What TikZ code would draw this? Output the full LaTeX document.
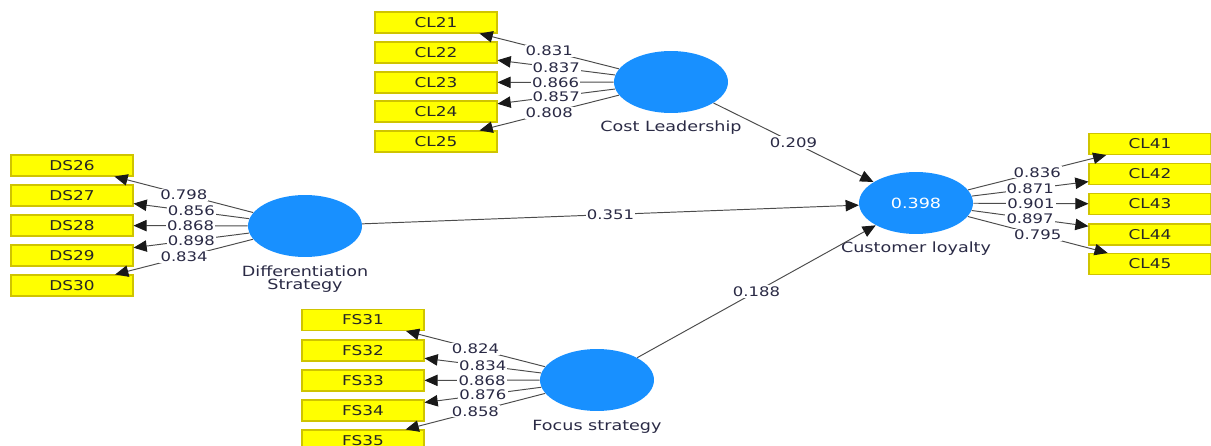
\documentclass[tikz,border=0pt]{standalone}
\usepackage{fontspec}
\setmainfont[FakeStretch=1.25]{DejaVu Sans}
\usetikzlibrary{shapes.geometric,arrows.meta}
\definecolor{lvblue}{HTML}{1890FF}
\definecolor{boxyel}{HTML}{FFFF00}
\definecolor{boxedge}{HTML}{CFC400}
\definecolor{lblcol}{HTML}{2A2A45}
\begin{document}
\begin{tikzpicture}[x=0.02cm,y=-0.02cm,
 ind/.style={rectangle,draw=boxedge,fill=boxyel,line width=0.6pt,minimum width=2.44cm,minimum height=0.42cm,inner sep=0pt,text=black!85,font=\fontsize{7.7}{9}\selectfont},
 lv/.style={ellipse,fill=lvblue,minimum width=2.28cm,minimum height=1.24cm,inner sep=0pt},
 arr/.style={draw=black!70,line width=0.55pt,-{Triangle[length=7.5pt,width=6.5pt,color=black!90]}},
 lbl/.style={fill=white,inner sep=0.6pt,font=\fontsize{7.5}{9}\selectfont,text=lblcol,pos=0.5},
 lvname/.style={font=\fontsize{8}{7.6}\selectfont,text=lblcol,align=center}]
\useasboundingbox (0,0) rectangle (1211,446);
\clip (0,0) rectangle (1211,446);
% latent variables
\node[lv] (cl) at (671,82) {};
\node[lv] (ds) at (305,226) {};
\node[lv] (fs) at (597,380) {};
\node[lv,text=white,font=\fontsize{8}{9}\selectfont] (cus) at (916,203) {0.398};
\node[lvname] (cln) at (671,128) {Cost Leadership};
\node[lvname] (dsn) at (305,279) {Differentiation\\Strategy};
\node[lvname] (fsn) at (597,427) {Focus strategy};
\node[lvname] (cusn) at (916,249) {Customer loyalty};
% indicators
\node[ind] (cl21) at (436,22.5) {CL21};
\node[ind] (cl22) at (436,52.5) {CL22};
\node[ind] (cl23) at (436,82.5) {CL23};
\node[ind] (cl24) at (436,111.5) {CL24};
\node[ind] (cl25) at (436,141.5) {CL25};
\node[ind] (ds26) at (72,165.5) {DS26};
\node[ind] (ds27) at (72,195.5) {DS27};
\node[ind] (ds28) at (72,225.5) {DS28};
\node[ind] (ds29) at (72,255.5) {DS29};
\node[ind] (ds30) at (72,285.5) {DS30};
\node[ind] (fs31) at (363,320) {FS31};
\node[ind] (fs32) at (363,350.5) {FS32};
\node[ind] (fs33) at (363,380.5) {FS33};
\node[ind] (fs34) at (363,410.5) {FS34};
\node[ind] (fs35) at (363,440.5) {FS35};
\node[ind] (cl41) at (1150,144) {CL41};
\node[ind] (cl42) at (1150,174) {CL42};
\node[ind] (cl43) at (1150,204) {CL43};
\node[ind] (cl44) at (1150,234.5) {CL44};
\node[ind] (cl45) at (1150,264) {CL45};
% outer loadings
\draw[arr] (cl) -- node[lbl]{0.831} (cl21);
\draw[arr] (cl) -- node[lbl]{0.837} (cl22);
\draw[arr] (cl) -- node[lbl]{0.866} (cl23);
\draw[arr] (cl) -- node[lbl]{0.857} (cl24);
\draw[arr] (cl) -- node[lbl]{0.808} (cl25);
\draw[arr] (ds) -- node[lbl]{0.798} (ds26);
\draw[arr] (ds) -- node[lbl]{0.856} (ds27);
\draw[arr] (ds) -- node[lbl]{0.868} (ds28);
\draw[arr] (ds) -- node[lbl]{0.898} (ds29);
\draw[arr] (ds) -- node[lbl]{0.834} (ds30);
\draw[arr] (fs) -- node[lbl]{0.824} (fs31);
\draw[arr] (fs) -- node[lbl]{0.834} (fs32);
\draw[arr] (fs) -- node[lbl]{0.868} (fs33);
\draw[arr] (fs) -- node[lbl]{0.876} (fs34);
\draw[arr] (fs) -- node[lbl]{0.858} (fs35);
\draw[arr] (cus) -- node[lbl]{0.836} (cl41);
\draw[arr] (cus) -- node[lbl]{0.871} (cl42);
\draw[arr] (cus) -- node[lbl]{0.901} (cl43);
\draw[arr] (cus) -- node[lbl]{0.897} (cl44);
\draw[arr] (cus) -- node[lbl]{0.795} (cl45);
% path coefficients
\draw[arr] (cl) -- node[lbl]{0.209} (cus);
\draw[arr] (ds) -- node[lbl]{0.351} (cus);
\draw[arr] (fs) -- node[lbl]{0.188} (cus);
\end{tikzpicture}
\end{document}
